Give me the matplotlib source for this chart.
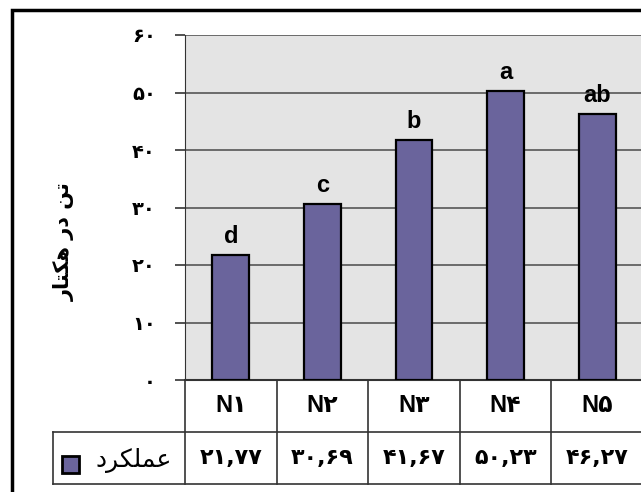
import matplotlib
matplotlib.use("Agg")
import matplotlib.pyplot as plt
from matplotlib.patches import Rectangle

FA_DIGITS = str.maketrans("0123456789.", "۰۱۲۳۴۵۶۷۸۹,")


def fa(s):
    return str(s).translate(FA_DIGITS)


treatments = ["N1", "N2", "N3", "N4", "N5"]
yields = [21.77, 30.69, 41.67, 50.23, 46.27]
groups = ["d", "c", "b", "a", "ab"]
y_ticks = [0, 10, 20, 30, 40, 50, 60]
# Persian strings as presentation forms in visual order (matplotlib does no shaping/bidi)
series_label = "\uFEA9\uFEAE\uFB91\uFEE0\uFEE4\uFECB"  # عملکرد
y_label = "\uFEAD\uFE8E\uFE98\uFB91\uFEEB \uFEAD\uFEA9 \uFEE6\uFE97"  # تن در هکتار

BAR_COLOR = "#6a649c"
LINE = "#333333"
LATIN = ["Liberation Sans", "DejaVu Sans"]

W, H = 641, 492
fig = plt.figure(figsize=(W / 100, H / 100), dpi=100)
ax = fig.add_axes([185 / W, 1 - 380 / H, 458 / W, 345 / H])
ax.set_facecolor("#e4e4e4")

x = list(range(len(treatments)))
ax.bar(x, yields, width=0.4, color=BAR_COLOR, edgecolor="black", linewidth=1.6, zorder=3)
for i, (v, g) in enumerate(zip(yields, groups)):
    ax.annotate(g, (i, v), xytext=(0, 5), textcoords="offset points", ha="center", va="bottom",
                fontsize=17, fontweight="bold", family=LATIN)

ax.set_xlim(-0.5, len(treatments) - 0.5)
ax.set_ylim(0, 60)
ax.set_yticks(y_ticks)
ax.set_yticklabels([fa(t) for t in y_ticks], fontsize=14, fontweight="bold")
ax.tick_params(axis="y", length=7, width=1.2, color=LINE, pad=14)
ax.set_xticks([])
ax.yaxis.grid(True, color="#6a6a6a", linewidth=1.4)
ax.set_axisbelow(True)
for s in ["top", "right"]:
    ax.spines[s].set_visible(False)
ax.spines["left"].set_color(LINE)
ax.spines["bottom"].set_color(LINE)
ax.spines["bottom"].set_linewidth(1.5)

# data table under the axis
row_h = 52 / 345
label_left = (53 - 185) / 458
xt = ax.get_xaxis_transform()
for i in range(len(treatments) + 1):
    ax.plot([i - 0.5, i - 0.5], [0, -2 * row_h], transform=xt, color=LINE, lw=1.2, clip_on=False)
for yy in [-row_h, -2 * row_h]:
    ax.plot([label_left, 1.0], [yy, yy], transform=ax.transAxes, color=LINE, lw=1.2, clip_on=False)
ax.plot([label_left, label_left], [-row_h, -2 * row_h], transform=ax.transAxes, color=LINE, lw=1.2,
        clip_on=False)

for i, (name, v) in enumerate(zip(treatments, yields)):
    ax.text(i, -0.5 * row_h, name[0] + fa(name[1:]), transform=xt, ha="center", va="center",
            fontsize=17, fontweight="bold", family=LATIN)
    ax.text(i, -1.5 * row_h, fa(f"{v:.2f}"), transform=xt, ha="center", va="center",
            fontsize=16, fontweight="bold")

ax.add_patch(Rectangle(((62 - 185) / 458, (380 - 473) / 345), 17 / 458, 17 / 345, transform=ax.transAxes,
                       facecolor=BAR_COLOR, edgecolor="black", lw=2, clip_on=False))
ax.text((172 - 185) / 458, -1.55 * row_h, series_label, transform=ax.transAxes, ha="right", va="center",
        fontsize=18)

fig.text(64 / W, 1 - 242 / H, y_label, rotation=90, ha="center", va="center", fontsize=15,
         fontweight="bold")

# outer frame of the scanned figure
fig.patches.append(Rectangle((12 / W, -0.1), 1.2, 1 - 10 / H + 0.1, transform=fig.transFigure,
                             fill=False, edgecolor="black", lw=2.5))

fig.savefig("out.png", dpi=100)
